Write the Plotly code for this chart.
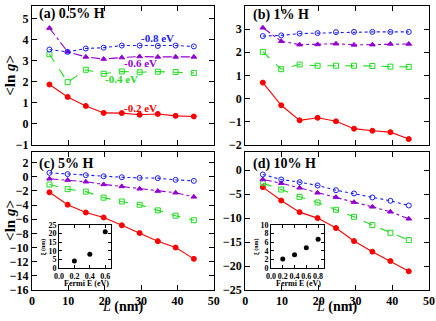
import plotly.graph_objects as go
from plotly.subplots import make_subplots

# Longitud L (nm)
L = [4.8, 9.8, 14.8, 19.7, 24.7, 29.6, 34.6, 39.5, 44.5]

# (a) 0.5% H
a_02 = [1.87, 1.28, 0.85, 0.52, 0.51, 0.43, 0.47, 0.38, 0.35]
a_04 = [3.31, 1.98, 2.57, 2.38, 2.49, 2.45, 2.48, 2.46, 2.42]
a_06 = [4.55, 3.42, 3.18, 3.08, 3.15, 3.20, 3.18, 3.18, 3.18]
a_08 = [3.53, 3.42, 3.58, 3.62, 3.72, 3.72, 3.70, 3.72, 3.68]

# (b) 1% H
b_02 = [0.69, -0.29, -0.94, -0.83, -0.98, -1.30, -1.39, -1.45, -1.75]
b_04 = [2.02, 1.27, 1.47, 1.42, 1.42, 1.42, 1.41, 1.38, 1.37]
b_06 = [3.06, 2.48, 2.33, 2.34, 2.37, 2.32, 2.33, 2.36, 2.36]
b_08 = [2.70, 2.73, 2.81, 2.83, 2.87, 2.88, 2.88, 2.88, 2.88]

# (c) 5% H
c_02 = [-2.2, -3.95, -5.05, -5.75, -6.85, -7.95, -9.1, -10.0, -11.6]
c_04 = [-1.1, -1.75, -2.1, -2.95, -3.5, -3.95, -4.75, -5.5, -6.15]
c_06 = [-0.28, -0.47, -0.7, -1.08, -1.36, -1.7, -2.02, -2.26, -2.84]
c_08 = [0.55, 0.37, 0.22, 0.07, -0.07, -0.16, -0.2, -0.44, -0.58]

# (d) 10% H
d_02 = [-3.54, -6.32, -8.75, -10.0, -12.08, -14.79, -17.0, -18.96, -21.1]
d_04 = [-2.71, -4.03, -5.56, -6.74, -8.26, -9.72, -11.46, -13.06, -14.58]
d_06 = [-1.94, -2.71, -3.68, -4.72, -5.63, -6.67, -7.64, -8.68, -10.14]
d_08 = [-0.9, -1.94, -2.5, -3.19, -4.17, -4.86, -5.69, -6.39, -7.36]

# insets: longitud de localizacion
fermi_c = [0.2, 0.4, 0.6]
xi_c = [4.0, 8.0, 21.0]
fermi_d = [0.2, 0.4, 0.6, 0.8]
xi_d = [2.1, 3.1, 4.7, 6.7]

FONT = "Liberation Serif"
RED = "#ff0000"
GREEN = "#1fdc1f"
VIOLET = "#9400d3"
BLUE = "#1a1aff"

estilos = [
    (RED, "solid", "circle"),
    (GREEN, "dash", "square-open"),
    (VIOLET, "dashdot", "triangle-up"),
    (BLUE, "dot", "circle-open"),
]

paneles = [
    (1, 1, [a_02, a_04, a_06, a_08]),
    (1, 2, [b_02, b_04, b_06, b_08]),
    (2, 1, [c_02, c_04, c_06, c_08]),
    (2, 2, [d_02, d_04, d_06, d_08]),
]

fig = make_subplots(rows=2, cols=2)

for fila, col, series in paneles:
    for (color, dash, simbolo), y in zip(estilos, series):
        fig.add_trace(go.Scatter(
            x=L, y=y, mode="lines+markers",
            line=dict(color=color, width=1.1, dash=dash),
            marker=dict(symbol=simbolo, size=5, color=color,
                        line=dict(color=color, width=1)),
            showlegend=False), row=fila, col=col)

# insets
fig.add_trace(go.Scatter(x=fermi_c, y=xi_c, mode="markers", xaxis="x5", yaxis="y5",
                         marker=dict(color="black", size=5), showlegend=False))
fig.add_trace(go.Scatter(x=fermi_d, y=xi_d, mode="markers", xaxis="x6", yaxis="y6",
                         marker=dict(color="black", size=5), showlegend=False))

eje = dict(showline=True, linecolor="black", linewidth=1, mirror="ticks",
           ticks="inside", ticklen=5, tickcolor="black", showgrid=False,
           zeroline=False, automargin=False,
           tickfont=dict(family=FONT, size=12, color="black", weight="bold"))

xdom = [[0.0, 0.458], [0.537, 1.0]]
ydom = [[0.511, 1.0], [0.0, 0.486]]
yrangos = {(1, 1): ([-1, 5.6], 1), (1, 2): ([-2, 4], 1),
           (2, 1): ([-16, 3.5], 2), (2, 2): ([-25, 3.8], 5)}

for (fila, col), (rng, dt) in yrangos.items():
    fig.update_xaxes(eje, range=[0, 50], dtick=10, domain=xdom[col - 1],
                     showticklabels=(fila == 2), row=fila, col=col)
    fig.update_yaxes(eje, range=rng, dtick=dt, domain=ydom[fila - 1], row=fila, col=col)

eje_in = dict(eje, ticklen=3, tickangle=0,
              tickfont=dict(family=FONT, size=8, color="black", weight="bold"))
fig.update_layout(
    xaxis5=dict(eje_in, anchor="y5", domain=[0.068, 0.2], range=[0, 0.68], dtick=0.2,
                tickformat=".1f"),
    yaxis5=dict(eje_in, anchor="x5", domain=[0.0775, 0.229], range=[0, 25], dtick=5),
    xaxis6=dict(eje_in, anchor="y6", domain=[0.602, 0.7355], range=[0, 0.9], dtick=0.2,
                tickformat=".1f"),
    yaxis6=dict(eje_in, anchor="x6", domain=[0.0775, 0.229], range=[0, 10], dtick=2),
)

def anot(texto, x, y, size, xref="paper", yref="paper", color="black", angle=0,
         xanchor="center"):
    fig.add_annotation(text=texto, x=x, y=y, xref=xref, yref=yref, showarrow=False,
                       textangle=angle, xanchor=xanchor, yanchor="middle",
                       font=dict(family=FONT, size=size, color=color))

# etiquetas de paneles
anot("<b>(a) 0.5% H</b>", 1.5, 5.2, 14, "x", "y", xanchor="left")
anot("<b>(b) 1% H</b>", 1.5, 3.62, 14, "x2", "y2", xanchor="left")
anot("<b>(c) 5% H</b>", 1.5, 1.8, 14, "x3", "y3", xanchor="left")
anot("<b>(d) 10% H</b>", 1.5, 1.2, 14, "x4", "y4", xanchor="left")

# energias en (a)
anot("<b>-0.8 eV</b>", 34.6, 4.09, 11, "x", "y", color=BLUE)
anot("<b>-0.6 eV</b>", 29.9, 2.88, 11, "x", "y", color=VIOLET)
anot("<b>-0.4 eV</b>", 24.7, 2.12, 11, "x", "y", color=GREEN)
anot("<b>-0.2 eV</b>", 29.9, 0.77, 11, "x", "y", color=RED)

# titulos de ejes
anot("<b>&lt;ln <i>g</i>&gt;</b>", -0.056, 0.757, 15, angle=-90)
anot("<b>&lt;ln <i>g</i>&gt;</b>", -0.056, 0.246, 15, angle=-90)
anot("<i>L</i><b> (nm)</b>", 0.228, -0.06, 14)
anot("<i>L</i><b> (nm)</b>", 0.768, -0.06, 14)

# titulos de insets
anot("<b>Fermi E (eV)</b>", 0.138, 0.022, 8)
anot("<b>Fermi E (eV)</b>", 0.672, 0.022, 8)
anot("<b>ξ (nm)</b>", 0.031, 0.152, 6, angle=-90)
anot("<b>ξ (nm)</b>", 0.567, 0.152, 6, angle=-90)

fig.update_layout(
    width=436, height=321,
    margin=dict(l=32, r=7, t=6, b=31, autoexpand=False),
    plot_bgcolor="white", paper_bgcolor="white",
    font=dict(family=FONT, color="black"),
)

# quitar el margen del body para que la figura empiece en (0, 0)
fig.write_html("out.html", config={"displayModeBar": False},
               post_script="document.body.style.margin = '0px';")
